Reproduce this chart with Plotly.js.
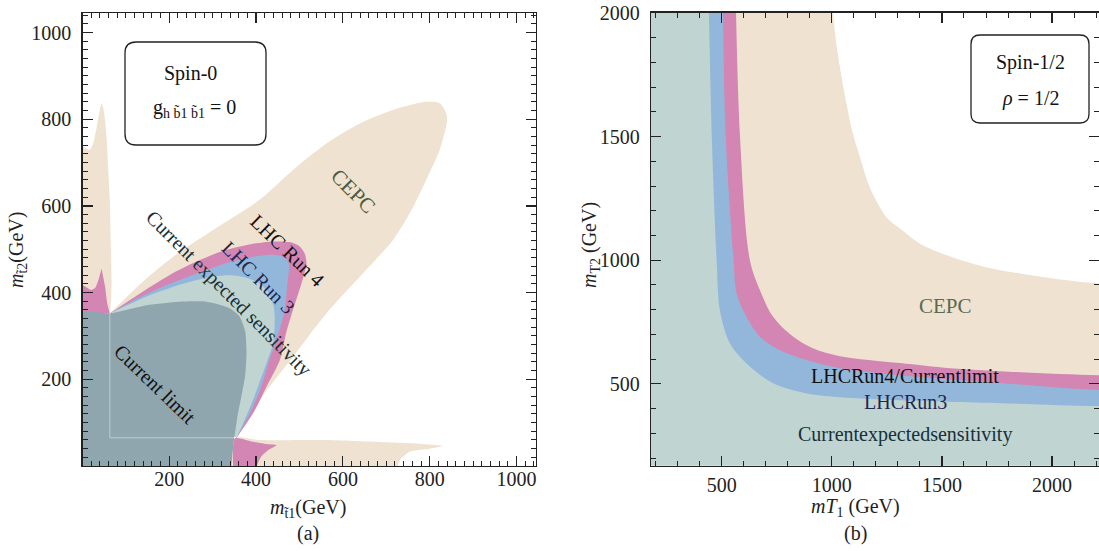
<!DOCTYPE html>
<html>
<head>
<meta charset="utf-8">
<script src="https://cdn.plot.ly/plotly-3.0.1.min.js"></script>
<style>html,body{margin:0;padding:0;background:#fff}#chart{width:1099px;height:551px}</style>
</head>
<body>
<div id="chart"></div>
<script>
// ---------- Panel (a): Spin-0, boundaries in (m_t1, m_t2) GeV ----------
const cepcSpikeX = [0, 0, 8, 17, 25, 33, 40, 44, 48, 52, 56, 59, 63, 65, 67, 66, 63];
const cepcSpikeY = [340, 737, 733, 729, 745, 783, 822, 837, 825, 798, 752, 690, 614, 520, 429, 380, 352];
const cepcMainX = [63, 148, 224, 300, 408, 485, 562, 639, 715, 792, 823, 838, 840, 838, 823, 792, 754, 715, 670, 562, 485, 408, 355];
const cepcMainY = [352, 433, 494, 544, 614, 683, 744, 790, 821, 840, 837, 814, 795, 783, 729, 660, 583, 521, 470, 352, 252, 152, 65];
const cepcStripX = [343, 355, 408, 562, 715, 790, 830, 800, 754, 731, 727];
const cepcStripY = [0, 65, 60, 60, 54, 50, 46, 40, 33, 14, 0];
const run4SpikeX = [0, 0, 10, 20, 30, 37, 42, 44, 47, 52, 57, 63];
const run4SpikeY = [350, 417, 412, 406, 412, 430, 448, 455, 440, 414, 375, 352];
const run4MainX = [63, 120, 200, 270, 330, 390, 440, 480, 500, 512, 516, 510, 498, 485, 470, 455, 424, 395, 355];
const run4MainY = [352, 390, 440, 475, 498, 512, 518, 516, 507, 490, 468, 440, 400, 360, 310, 245, 183, 125, 65];
const run4LowX = [347, 351, 393, 430, 447, 430, 412, 401];
const run4LowY = [0, 64, 56, 50, 48, 38, 22, 0];
const run3MainX = [63, 130, 186, 263, 339, 408, 445, 468, 476, 472, 466, 450, 431, 412, 390, 355];
const run3MainY = [352, 388, 414, 444, 470, 485, 487, 480, 465, 420, 360, 300, 245, 183, 130, 65];
const expMainX = [63, 148, 224, 301, 340, 375, 408, 428, 440, 443, 439, 424, 405, 393, 370, 355];
const expMainY = [352, 391, 418, 437, 440, 435, 421, 400, 370, 337, 283, 237, 185, 152, 98, 65];
const limitX = [0, 0, 63, 148, 224, 286, 339, 362, 375, 378, 375, 366, 358, 352, 349, 343];
const limitY = [0, 352, 352, 371, 379, 379, 364, 345, 310, 260, 210, 160, 120, 80, 60, 0];
const gridEdgeX = [63, 63, 349];
const gridEdgeY = [352, 65, 65];
const ticksA = [200, 400, 600, 800, 1000];

// ---------- Panel (b): Spin-1/2, boundaries in (mT1, mT2) GeV ----------
const run3EdgeX = [442, 455, 477, 492, 538, 613, 734, 886, 1037, 1310, 1764, 2213];
const run3EdgeY = [2000, 1500, 1000, 797, 663, 582, 502, 461, 446, 434, 422, 410];
const run4EdgeX = [506, 518, 554, 568, 613, 674, 765, 886, 1037, 1309, 1764, 2213];
const run4EdgeY = [2000, 1500, 1000, 864, 770, 690, 636, 596, 563, 535, 503, 475];
const cepcEdgeX = [565, 583, 628, 674, 734, 825, 916, 1037, 1310, 1537, 1764, 2213];
const cepcEdgeY = [2000, 1500, 1000, 878, 770, 690, 643, 612, 584, 563, 551, 535];
const cepcOuterX = [1005, 1019, 1037, 1064, 1096, 1133, 1173, 1249, 1310, 1400, 1550, 1705, 1855, 2005, 2213];
const cepcOuterY = [2000, 1886, 1778, 1644, 1511, 1402, 1293, 1173, 1128, 1067, 1011, 971, 946, 926, 906];
const ticksB = [500, 1000, 1500, 2000];

// ---------- styling ----------
const W = 1099, H = 551;
const C = {cepc:'#EFE2D0', run4:'#D385B3', run3:'#93B7DA', exp:'#C0D4D2', limit:'#8FA6AF'};
const FONT = 'Liberation Serif, Times New Roman, serif';
const rangeA = [0, 1045];
const rangeBx = [179, 2213], rangeBy = [169, 2001];

function region(x, y, color, xa, ya, smooth) {
  return {x:x, y:y, xaxis:xa, yaxis:ya, type:'scatter', mode:'lines', fill:'toself',
          fillcolor:color, line:{width:0, color:color, shape:'spline', smoothing:smooth === undefined ? 0.8 : smooth},
          hoverinfo:'skip', showlegend:false};
}

const traces = [
  region(cepcSpikeX, cepcSpikeY, C.cepc, 'x', 'y', 0.5),
  region(cepcMainX, cepcMainY, C.cepc, 'x', 'y'),
  region(cepcStripX, cepcStripY, C.cepc, 'x', 'y', 0.6),
  region(run4SpikeX, run4SpikeY, C.run4, 'x', 'y', 0.5),
  region(run4MainX, run4MainY, C.run4, 'x', 'y'),
  region(run4LowX, run4LowY, C.run4, 'x', 'y', 0.6),
  region(run3MainX, run3MainY, C.run3, 'x', 'y'),
  region(expMainX, expMainY, C.exp, 'x', 'y'),
  region(limitX, limitY, C.limit, 'x', 'y', 0.6),
  {x:gridEdgeX, y:gridEdgeY, xaxis:'x', yaxis:'y', type:'scatter', mode:'lines',
   line:{width:1, color:'rgba(205,218,220,0.75)'}, hoverinfo:'skip', showlegend:false}
];
[[run3EdgeX, run3EdgeY, C.run3], [run4EdgeX, run4EdgeY, C.run4],
 [cepcEdgeX, cepcEdgeY, C.cepc], [cepcOuterX, cepcOuterY, '#FFFFFF']].forEach(function(r) {
  const xs = r[0].concat([rangeBx[1] + 300, rangeBx[1] + 300, r[0][0]]);
  const ys = r[1].concat([r[1][r[1].length-1], rangeBy[1] + 300, rangeBy[1] + 300]);
  traces.push(region(xs, ys, r[2], 'x2', 'y2', 0.9));
});

function axis(domain, range, tickvals, minorStep, anchor, standoff) {
  return {domain:domain, range:range, anchor:anchor, tickmode:'array', tickvals:tickvals,
    ticks:'inside', ticklen:10, tickwidth:1.2, tickcolor:'#222', ticklabelstandoff:standoff,
    showline:true, linecolor:'#222', linewidth:1.3, mirror:'ticks',
    showgrid:false, zeroline:false, fixedrange:true,
    tickfont:{family:FONT, size:20, color:'#222'},
    minor:{dtick:minorStep, tick0:0, ticks:'inside', ticklen:5, tickwidth:1, tickcolor:'#222', showgrid:false}};
}

function P(x, y) { return [x / W, 1 - y / H]; }
function ann(text, x, y, opts) {
  const p = P(x, y);
  return Object.assign({text:text, x:p[0], y:p[1], xref:'paper', yref:'paper', showarrow:false,
    xanchor:'center', yanchor:'middle', font:{family:FONT, size:20, color:'#111'}}, opts || {});
}
function roundRect(x0, y0, x1, y1, r) {
  const q = function(x, y) { const p = P(x, y); return p[0].toFixed(5) + ',' + p[1].toFixed(5); };
  return 'M' + q(x0 + r, y0) + ' L' + q(x1 - r, y0) + ' Q' + q(x1, y0) + ' ' + q(x1, y0 + r) +
    ' L' + q(x1, y1 - r) + ' Q' + q(x1, y1) + ' ' + q(x1 - r, y1) +
    ' L' + q(x0 + r, y1) + ' Q' + q(x0, y1) + ' ' + q(x0, y1 - r) +
    ' L' + q(x0, y0 + r) + ' Q' + q(x0, y0) + ' ' + q(x0 + r, y0) + ' Z';
}

const axisFont = {family:FONT, size:20, color:'#222'};
const layout = {
  width:W, height:H, margin:{l:0, r:0, t:0, b:0}, paper_bgcolor:'#fff', plot_bgcolor:'rgba(0,0,0,0)',
  showlegend:false,
  xaxis: axis([82.5/W, 536/W], rangeA, ticksA, 20, 'y', -5),
  yaxis: axis([1 - 466/H, 1 - 13/H], rangeA, ticksA, 20, 'x', 6),
  xaxis2: axis([651/W, 1], rangeBx, ticksB, 100, 'y2', 1),
  yaxis2: axis([1 - 465.7/H, 1 - 12.7/H], rangeBy, ticksB, 100, 'x2', 6),
  shapes: [
    {type:'rect', xref:'x2 domain', yref:'y2 domain', x0:0, x1:1, y0:0, y1:1, fillcolor:C.exp, line:{width:0}, layer:'below'},
    {type:'path', xref:'paper', yref:'paper', path:roundRect(125, 42, 266, 145, 11), line:{color:'#222', width:1.3}, fillcolor:'#fff'},
    {type:'path', xref:'paper', yref:'paper', path:roundRect(971, 35, 1089, 123, 9), line:{color:'#222', width:1.3}, fillcolor:'#fff'}
  ],
  annotations: [
    ann('Spin-0', 190, 73),
    ann('g<sub>h b\u03031 b\u03031</sub> = 0', 194, 108),
    ann('CEPC', 353, 191, {textangle:45, font:{family:FONT, size:21, color:'#4B5A3E'}}),
    ann('LHC Run 4', 287, 250, {textangle:44}),
    ann('LHC Run 3', 258, 277, {textangle:45, font:{family:FONT, size:20, color:'#1C2850'}}),
    ann('Current expected sensitivity', 229, 293, {textangle:45, font:{family:FONT, size:20, color:'#17303A'}}),
    ann('Current limit', 155, 384, {textangle:44}),
    ann('<i>m</i><sub>t\u03031</sub>(GeV)', 308, 508, {font:axisFont}),
    ann('(a)', 308, 533, {font:axisFont}),
    ann('<i>m</i><sub>t\u03032</sub>(GeV)', 18, 250, {textangle:-90, font:axisFont}),
    ann('Spin-1/2', 1030, 62),
    ann('<i>\u03C1</i> = 1/2', 1030, 98),
    ann('CEPC', 945, 306, {font:{family:FONT, size:21, color:'#5A6A50'}}),
    ann('LHCRun4/Currentlimit', 905, 376),
    ann('LHCRun3', 905, 402, {font:{family:FONT, size:20, color:'#1C2850'}}),
    ann('Currentexpectedsensitivity', 905, 434, {font:{family:FONT, size:20, color:'#17303A'}}),
    ann('<i>mT</i><sub>1</sub> (GeV)', 855, 507, {font:axisFont}),
    ann('(b)', 855, 533, {font:axisFont}),
    ann('<i>m</i><sub>T2</sub> (GeV)', 590, 245, {textangle:-90, font:axisFont})
  ]
};
Plotly.newPlot('chart', traces, layout, {staticPlot:true, displayModeBar:false});
</script>
</body>
</html>
